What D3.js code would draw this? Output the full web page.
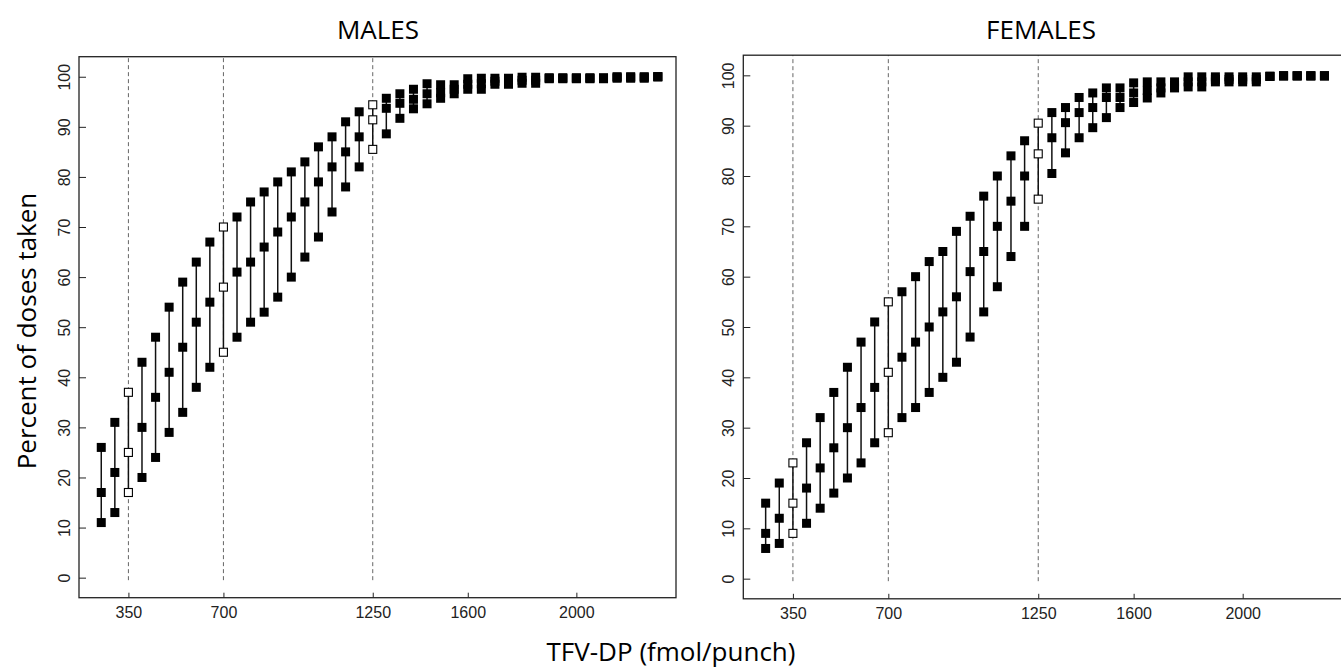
<!DOCTYPE html>
<html><head><meta charset="utf-8">
<script src="https://cdn.jsdelivr.net/npm/d3@7"></script>
<style>body{margin:0;background:#fff}svg{display:block}</style>
</head><body>
<svg id="chart" width="1341" height="672"></svg>
<script>
// ---- data ----
const doseLevels = [250,300,350,400,450,500,550,600,650,700,750,800,850,900,950,1000,1050,1100,1150,1200,1250,
  1300,1350,1400,1450,1500,1550,1600,1650,1700,1750,1800,1850,1900,1950,2000,2050,2100,2150,2200,2250,2300];

const maleLow  = [11,13,17,20,24,29,33,38,42,45,48,51,53,56,60,64,68,73,78,82,85.5,
  88.6,91.7,93.6,94.6,95.7,96.6,97.5,97.5,98.5,98.5,98.7,98.7,99.6,99.6,99.6,99.6,99.6,99.7,99.7,99.7,100];
const maleMid  = [17,21,25,30,36,41,46,51,55,58,61,63,66,69,72,75,79,82,85,88,91.4,
  93.7,94.7,95.5,96.6,96.8,97.5,98.5,98.6,99.1,99.1,99.3,99.3,99.7,99.7,99.7,99.7,99.7,99.9,99.9,99.9,100];
const maleHigh = [26,31,37,43,48,54,59,63,67,70,72,75,77,79,81,83,86,88,91,93,94.4,
  95.7,96.6,97.5,98.6,98.4,98.4,99.6,99.7,99.7,99.7,99.9,99.9,99.8,99.8,99.8,99.8,99.8,100,100,100,100];

const femaleLow  = [6,7,9,11,14,17,20,23,27,29,32,34,37,40,43,48,53,58,64,70,75.4,
  80.5,84.6,87.6,89.6,91.6,93.6,94.6,95.5,96.5,97.5,97.7,97.7,98.7,98.7,98.7,98.7,99.8,99.9,99.9,99.9,99.9];
const femaleMid  = [9,12,15,18,22,26,30,34,38,41,44,47,50,53,56,61,65,70,75,80,84.4,
  87.6,90.6,92.6,93.6,95.6,95.6,96.5,97,97.5,98,98.7,98.7,99.2,99.2,99.2,99.2,99.8,99.9,99.9,99.9,99.9];
const femaleHigh = [15,19,23,27,32,37,42,47,51,55,57,60,63,65,69,72,76,80,84,87,90.5,
  92.6,93.6,95.6,96.5,97.5,97.5,98.5,98.7,98.7,98.7,99.7,99.7,99.7,99.7,99.7,99.7,99.8,99.9,99.9,99.9,99.9];

const referenceLevels = [350, 700, 1250];   // open squares + dashed lines
const xTickValues = [350, 700, 1250, 1600, 2000];
const yTickValues = [0,10,20,30,40,50,60,70,80,90,100];
const panelTitles = ["MALES", "FEMALES"];
const yAxisTitle = "Percent of doses taken";
const xAxisTitle = "TFV-DP (fmol/punch)";

// ---- layout ----
const svg = d3.select("#chart");
const yDomain = [-4, 104];

const panels = [
  {title: panelTitles[0], low: maleLow, mid: maleMid, high: maleHigh,
   x: d3.scaleLinear().domain([168, 2367]).range([79, 676]),
   y: d3.scaleLinear().domain(yDomain).range([597.7, 56.7]), titleX: 378},
  {title: panelTitles[1], low: femaleLow, mid: femaleMid, high: femaleHigh,
   x: d3.scaleLinear().domain([168, 2382]).range([743.3, 1346.8]),
   y: d3.scaleLinear().domain(yDomain).range([598.8, 55.2]), titleX: 1041}
];

const tickFont = "'Liberation Sans', Arial, sans-serif";
const titleFont = "'Open Sans', 'Noto Sans', sans-serif";

panels.forEach(p => {
  const g = svg.append("g");
  const [x0, x1] = p.x.range();
  const [yb, yt] = p.y.range();

  // dashed reference lines
  g.selectAll("line.ref").data(referenceLevels).join("line")
    .attr("x1", d => p.x(d)).attr("x2", d => p.x(d))
    .attr("y1", p.y(-0.5)).attr("y2", yt)
    .attr("stroke", "#666").attr("stroke-width", 1).attr("stroke-dasharray", "4,3");

  // vertical connectors
  g.selectAll("line.rng").data(doseLevels).join("line")
    .attr("x1", d => p.x(d)).attr("x2", d => p.x(d))
    .attr("y1", (d, i) => p.y(p.low[i])).attr("y2", (d, i) => p.y(p.high[i]))
    .attr("stroke", "#111").attr("stroke-width", 1.5);

  // points
  const pts = [];
  doseLevels.forEach((d, i) => {
    [p.low[i], p.mid[i], p.high[i]].forEach(v => pts.push({x: d, v, open: referenceLevels.includes(d)}));
  });
  const s = 9;
  g.selectAll("rect.pt").data(pts.filter(d => !d.open)).join("rect")
    .attr("x", d => p.x(d.x) - s / 2).attr("y", d => p.y(d.v) - s / 2)
    .attr("width", s).attr("height", s).attr("fill", "#000");
  g.selectAll("rect.op").data(pts.filter(d => d.open)).join("rect")
    .attr("x", d => p.x(d.x) - (s - 1) / 2).attr("y", d => p.y(d.v) - (s - 1) / 2)
    .attr("width", s - 1).attr("height", s - 1)
    .attr("fill", "#fff").attr("stroke", "#000").attr("stroke-width", 1.1);

  // axes (inward ticks)
  const ax = g.append("g").attr("transform", `translate(0,${yb})`)
    .call(d3.axisBottom(p.x).tickValues(xTickValues).tickFormat(d3.format("d"))
      .tickSize(-5).tickPadding(9).tickSizeOuter(0));
  ax.select(".domain").remove();
  ax.selectAll("line").attr("stroke", "#222");
  ax.selectAll("text").attr("font-family", tickFont).attr("font-size", 16).attr("fill", "#222");

  const ay = g.append("g").attr("transform", `translate(${x0},0)`)
    .call(d3.axisLeft(p.y).tickValues(yTickValues).tickFormat(d3.format("d")).tickSize(-7).tickSizeOuter(0));
  ay.select(".domain").remove();
  ay.selectAll("line").attr("stroke", "#222");
  ay.selectAll("text")
    .attr("x", 0).attr("y", -9).attr("dy", 0)
    .attr("transform", "rotate(-90)")
    .attr("text-anchor", "middle")
    .attr("font-family", tickFont).attr("font-size", 16).attr("fill", "#222");

  // frame
  g.append("rect").attr("x", x0).attr("y", yt).attr("width", x1 - x0).attr("height", yb - yt)
    .attr("fill", "none").attr("stroke", "#222").attr("stroke-width", 1.3);

  // title
  svg.append("text").attr("x", p.titleX).attr("y", 39).attr("text-anchor", "middle")
    .attr("font-family", titleFont).attr("font-size", 26).attr("fill", "#000").text(p.title);
});

svg.append("text").attr("transform", "translate(36,331) rotate(-90)").attr("text-anchor", "middle")
  .attr("font-family", titleFont).attr("font-size", 26).attr("fill", "#000").text(yAxisTitle);
svg.append("text").attr("x", 671).attr("y", 661).attr("text-anchor", "middle")
  .attr("font-family", titleFont).attr("font-size", 26).attr("fill", "#000").text(xAxisTitle);
</script>
</body></html>
